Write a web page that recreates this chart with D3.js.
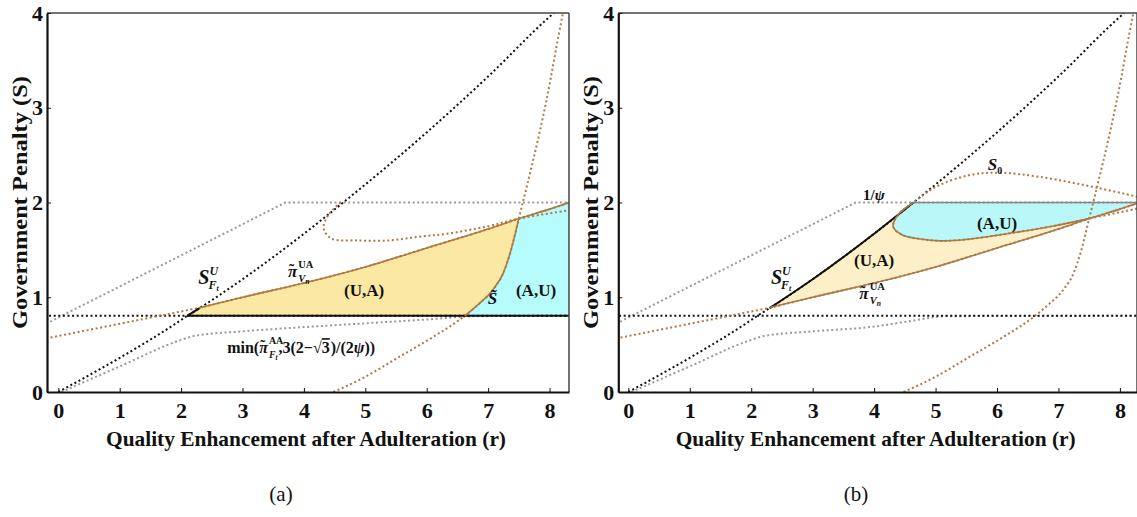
<!DOCTYPE html>
<html>
<head>
<meta charset="utf-8">
<script src="https://cdn.jsdelivr.net/npm/d3@7"></script>
<style>
body { margin: 0; background: #fff; }
svg { display: block; }
text { font-family: "Liberation Serif", "Times New Roman", serif; fill: #111; }
</style>
</head>
<body>
<div id="chart"></div>
<script>
// ticks
const xTicks = [0, 1, 2, 3, 4, 5, 6, 7, 8];
const yTicks = [0, 1, 2, 3, 4];

// curves, [r, S]
const sUF = [[0, 0], [1, 0.36], [2, 0.76], [2.1, 0.804], [2.3, 0.885], [3, 1.19], [4, 1.67], [4.64, 2.0], [5, 2.19], [6, 2.74], [7, 3.33], [8, 3.96], [8.07, 4.0]];
const sBar = 0.804;
const piUA = [[-0.2, 0.565], [1, 0.72], [2, 0.85], [2.3, 0.89], [3, 1.0], [4, 1.15], [5, 1.32], [6, 1.52], [7, 1.72], [7.5, 1.83], [8, 1.93], [8.32, 2.0]];
const psiCap = [[-0.2, 0.72], [3.7, 2.0], [8.4, 2.0]];
const minAA_a = [[0.05, 0], [1, 0.27], [2, 0.55], [2.2, 0.59], [3, 0.64], [4, 0.685], [5, 0.725], [6, 0.765], [6.8, 0.8], [8.4, 0.804]];
const minAA_b = [[0.05, 0], [1, 0.27], [2, 0.55], [2.2, 0.59], [3, 0.64], [4, 0.69], [4.6, 0.75], [5.2, 0.8], [8.4, 0.804]];
const sTilde = [[4.48, 0], [5.0, 0.16], [5.55, 0.37], [6.1, 0.58], [6.62, 0.804], [6.85, 0.93], [7.08, 1.08], [7.25, 1.26], [7.36, 1.47], [7.5, 1.83], [7.95, 3.08], [8.22, 4.0], [8.26, 4.12]];
const s0_a = [[4.6, 2.0], [4.4, 1.87], [4.32, 1.73], [4.45, 1.62], [4.86, 1.6], [5.4, 1.6], [5.89, 1.64], [6.33, 1.67], [7.0, 1.75], [7.5, 1.83], [8.35, 1.92]];
const s0_b = [[8.35, 1.945], [7.5, 1.83], [6.9, 1.75], [6.16, 1.67], [5.5, 1.61], [5.07, 1.595], [4.75, 1.615], [4.45, 1.66], [4.31, 1.745], [4.39, 1.87], [4.64, 2.0], [5.02, 2.17], [5.56, 2.29], [6.05, 2.315], [6.7, 2.27], [7.67, 2.15], [8.35, 2.05]];

// crossing points
const rStart = 2.1, rKnee = 2.3, rTilde = 6.62, rTriple = 7.5, rCorner = 4.64;

const color = { brown: "#ad7a45", grey: "#9a9a9a", black: "#111" };

function drawGraphic() {
    const svg = d3.select("#chart").append("svg")
        .attr("width", 1137)
        .attr("height", 517);

    const top = 13, bottom = 392;
    const lin = d3.curveLinear,
        mono = d3.curveMonotoneX,
        round = d3.curveCatmullRom.alpha(0.5);

    function between(arr, r0, r1) {
        return arr.filter(d => d[0] >= r0 - 1e-9 && d[0] <= r1 + 1e-9);
    }

    function makePanel(id, left, right, xDomain, caption, capX) {
        const x = d3.scaleLinear().domain(xDomain).range([left, right]);
        const y = d3.scaleLinear().domain([0, 4]).range([bottom, top]);
        const g = svg.append("g").attr("class", "panel-" + id);

        svg.append("clipPath").attr("id", "clip-" + id)
            .append("rect")
            .attr("x", left).attr("y", top)
            .attr("width", right - left).attr("height", bottom - top);

        const plot = g.append("g").attr("clip-path", "url(#clip-" + id + ")");
        const line = (pts, curve) => d3.line()
            .x(d => x(d[0]))
            .y(d => y(d[1]))
            .curve(curve || lin)(pts);

        // joins several [points, curve] pieces into one closed path
        const area = (...parts) => parts
            .map(([p, c], i) => i ? line(p, c).replace(/^M/, "L") : line(p, c))
            .join("") + "Z";

        const fill = (d, c) => plot.append("path").attr("d", d).attr("fill", c).attr("stroke", "none");
        const dotted = (pts, c, curve) => plot.append("path")
            .attr("d", line(pts, curve)).attr("fill", "none")
            .attr("stroke", c).attr("stroke-width", 2)
            .attr("stroke-dasharray", "2,2.6");
        const solid = (pts, c, curve, w) => plot.append("path")
            .attr("d", line(pts, curve)).attr("fill", "none")
            .attr("stroke", c).attr("stroke-width", w || 1.6)
            .attr("stroke-linejoin", "round");

        // frame
        g.append("line").attr("x1", left).attr("x2", right).attr("y1", top).attr("y2", top)
            .attr("stroke", "#444").attr("stroke-width", 1.5);
        g.append("line").attr("x1", right).attr("x2", right).attr("y1", top).attr("y2", bottom)
            .attr("stroke", "#444").attr("stroke-width", 1.5);

        // axes
        const ax = g.append("g")
            .attr("transform", "translate(0," + bottom + ")")
            .call(d3.axisBottom(x).tickValues(xTicks).tickSize(-4).tickSizeOuter(0).tickPadding(10).tickFormat(d3.format("d")));
        const ay = g.append("g")
            .attr("transform", "translate(" + left + ",0)")
            .call(d3.axisLeft(y).tickValues(yTicks).tickSize(-4).tickSizeOuter(0).tickPadding(4).tickFormat(d3.format("d")));
        [ax, ay].forEach(a => {
            a.select(".domain").attr("stroke", "#111").attr("stroke-width", 2.2);
            a.selectAll(".tick line").attr("stroke", "#111").attr("stroke-width", 1);
            a.selectAll(".tick text")
                .attr("font-family", "Liberation Serif, serif")
                .attr("font-weight", "bold")
                .attr("font-size", 22)
                .attr("fill", "#111");
        });

        // axis titles
        const cx = (left + Math.min(right, 1137)) / 2 - 2;
        g.append("text")
            .attr("x", cx).attr("y", 446)
            .attr("text-anchor", "middle")
            .attr("font-weight", "bold")
            .attr("font-size", 22)
            .attr("textLength", 400)
            .attr("lengthAdjust", "spacingAndGlyphs")
            .text("Quality Enhancement after Adulteration (r)");
        g.append("text")
            .attr("transform", "translate(" + (left - 20) + "," + ((top + bottom) / 2) + ") rotate(-90)")
            .attr("text-anchor", "middle")
            .attr("font-weight", "bold")
            .attr("font-size", 22)
            .attr("textLength", 253)
            .attr("lengthAdjust", "spacingAndGlyphs")
            .text("Government Penalty (S)");

        // caption
        g.append("text")
            .attr("x", capX).attr("y", 501)
            .attr("text-anchor", "middle")
            .attr("font-size", 21)
            .text(caption);

        return { x, y, g, plot, fill, dotted, solid, area };
    }

    // text helper: chain of pieces, "stay" pieces do not advance
    function chain(g, px, py, parts) {
        let cx = px;
        parts.forEach(p => {
            const t = g.append("text")
                .attr("x", cx + (p.dx || 0))
                .attr("y", py + (p.dy || 0))
                .attr("font-size", p.size || 16)
                .attr("font-weight", "bold")
                .text(p.t);
            if (p.it) t.attr("font-style", "italic");
            if (p.font) t.attr("font-family", p.font);
            if (p.deco) t.attr("text-decoration", p.deco);
            if (!p.stay) cx += (p.dx || 0) + t.node().getComputedTextLength();
        });
    }
    const label = (g, px, py, s, size) => g.append("text")
        .attr("x", px).attr("y", py)
        .attr("text-anchor", "middle")
        .attr("font-weight", "bold")
        .attr("font-size", size || 17)
        .text(s);
    const sufLabel = (g, px, py) => chain(g, px, py, [
        { t: "S", it: true, size: 20 },
        { t: "U", it: true, size: 12, dy: -9, stay: true },
        { t: "F", it: true, size: 12, dy: 5, dx: -1 },
        { t: "t", it: true, size: 8, dy: 7 }
    ]);
    const piParts = (size, sup, sub, subSmall) => [
        { t: "\u02DC", size: size * 0.9, dy: -3, dx: 1, stay: true },
        { t: "π", it: true, size: size },
        { t: sup, size: size * 0.62, dy: -9, dx: 1, stay: true },
        { t: sub, it: true, size: size * 0.62, dy: 5, dx: 1 },
        { t: subSmall, it: true, size: size * 0.45, dy: 7 }
    ];

    // ---------- panel (a)
    const A = makePanel("a", 47, 569, [-0.184, 8.317], "(a)", 281);
    A.fill(A.area(
        [[[rStart, sBar], [rTilde, sBar]], lin],
        [between(sTilde, rTilde, rTriple), mono],
        [between(piUA, rKnee, rTriple).reverse(), mono],
        [between(sUF, rStart, rKnee).reverse(), lin]), "#fbe8a3");
    A.fill(A.area(
        [[[rTilde, sBar], [8.4, sBar], [8.4, 2.02]], lin],
        [between(piUA, rTriple, 9).reverse(), mono],
        [between(sTilde, rTilde, rTriple).reverse(), mono]), "#b6fcfc");

    A.dotted(psiCap, color.grey, lin);
    A.dotted(minAA_a, color.grey, mono);
    A.dotted([[-0.3, sBar], [8.4, sBar]], color.black, lin);
    A.dotted(sUF, color.black, mono);
    A.dotted(piUA, color.brown, mono);
    A.dotted(sTilde, color.brown, mono);
    A.dotted(s0_a, color.brown, round);

    A.solid([[rStart, sBar], [8.4, sBar]], color.black, lin, 2);
    A.solid(between(sUF, rStart, rKnee), color.black, lin, 2);
    A.solid(between(piUA, rKnee, 9), color.brown, mono);
    A.solid(between(sTilde, rTilde, rTriple), color.brown, mono);

    sufLabel(A.g, A.x(2.28), A.y(1.14));
    chain(A.g, A.x(3.74), A.y(1.21), piParts(17, "UA", "V", "n"));
    label(A.g, A.x(4.98), A.y(1.01), "(U,A)");
    label(A.g, A.x(7.78), A.y(1.01), "(A,U)");
    A.g.append("text").attr("x", A.x(7.07)).attr("y", A.y(0.93)).attr("text-anchor", "middle")
        .attr("font-size", 17).attr("font-style", "italic").attr("font-weight", "bold")
        .attr("font-family", "DejaVu Serif").text("S\u0303");
    chain(A.g, A.x(2.75), A.y(0.41), [
        { t: "min(", size: 16 },
        ...piParts(16, "AA", "F", "t"),
        { t: ",3(2\u2212\u221A", size: 16, dx: 1 },
        { t: "3", size: 16, deco: "overline" },
        { t: ")/(2", size: 16, dx: 1 },
        { t: "ψ", size: 16, it: true },
        { t: "))", size: 16 }
    ]);

    // ---------- panel (b)
    const B = makePanel("b", 618.3, 1137, [-0.163, 8.278], "(b)", 856);
    const iTriple = s0_b.findIndex(d => d[0] === rTriple);
    const iCorner = s0_b.findIndex(d => d[0] === rCorner);
    const s0Edge = s0_b.slice(iTriple, iCorner + 1);

    B.fill(B.area(
        [between(sUF, rKnee, rCorner), mono],
        [s0Edge.slice().reverse(), round],
        [between(piUA, rKnee, rTriple).reverse(), mono]), "#fdf0c8");
    B.fill(B.area(
        [[[rCorner, 2.0], [8.4, 2.0]], lin],
        [between(piUA, rTriple, 9).reverse(), mono],
        [s0Edge, round]), "#b9f7f8");

    B.dotted(psiCap, color.grey, lin);
    B.dotted(minAA_b, color.grey, mono);
    B.dotted([[-0.3, sBar], [8.4, sBar]], color.black, lin);
    B.dotted(sUF, color.black, mono);
    B.dotted(piUA, color.brown, mono);
    B.dotted(sTilde, color.brown, mono);
    B.dotted(s0_b, color.brown, round);

    B.solid([[rCorner, 2.0], [8.4, 2.0]], "#888", lin, 1.6);
    B.solid(between(sUF, rKnee, rCorner), color.black, mono, 2);
    B.solid(between(piUA, rKnee, 9), color.brown, mono);
    B.solid(s0Edge, color.brown, round);

    sufLabel(B.g, B.x(2.32), B.y(1.14));
    chain(B.g, B.x(3.76), B.y(0.98), piParts(17, "UA", "V", "n"));
    label(B.g, B.x(4.0), B.y(1.33), "(U,A)");
    label(B.g, B.x(6.0), B.y(1.72), "(A,U)");
    chain(B.g, B.x(3.82), B.y(2.03), [
        { t: "1/", size: 15 },
        { t: "ψ", size: 15, it: true }
    ]);
    chain(B.g, B.x(5.85), B.y(2.34), [
        { t: "S", size: 17, it: true },
        { t: "0", size: 10, dy: 4 }
    ]);
}

window.addEventListener("load", drawGraphic);
</script>
</body>
</html>
